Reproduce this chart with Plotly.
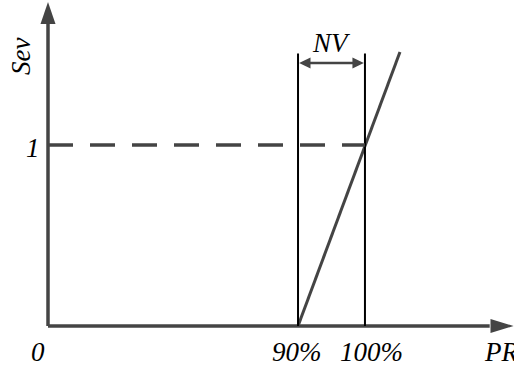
import plotly.graph_objects as go

# schematic data (abstract units)
tick_labels = ["0", "90%", "100%"]
tick_pos = [0.0, 9.0, 11.41]
label_pos = [-0.36, 8.96, 11.66]
sev_x = [9.0, 12.67]
sev_y = [0.0, 1.514]
ref_level = 1.0
ref_label = "1"
nv_label = "NV"
x_title = "PR"
y_title = "Sev"

XR = [-1.728, 16.775]
YR = [-0.254, 1.801]
AX = "#444444"
FONT = dict(family="Liberation Serif", size=27, color="black")

fig = go.Figure()
shapes = []
# axes
shapes.append(dict(type="line", x0=0, y0=0, x1=15.9, y1=0, line=dict(color=AX, width=3.5)))
shapes.append(dict(type="line", x0=0, y0=0, x1=0, y1=1.70, line=dict(color=AX, width=3.5)))
# axis arrowheads
shapes.append(dict(type="path", path="M 0,1.790 L -0.27,1.668 L 0.27,1.668 Z",
                   fillcolor=AX, line=dict(color=AX, width=0)))
shapes.append(dict(type="path", path="M 16.76,0 L 15.93,0.039 L 15.93,-0.039 Z",
                   fillcolor=AX, line=dict(color=AX, width=0)))
# vertical boundaries
for xp in tick_pos[1:]:
    shapes.append(dict(type="line", x0=xp, y0=0, x1=xp, y1=1.505, line=dict(color="black", width=2)))
# dashed reference
shapes.append(dict(type="line", x0=0, y0=ref_level, x1=tick_pos[2], y1=ref_level,
                   line=dict(color=AX, width=3.5, dash="25px,17px")))
# NV arrow
ny = 1.453
shapes.append(dict(type="line", x0=tick_pos[1] + 0.3, y0=ny, x1=tick_pos[2] - 0.3, y1=ny,
                   line=dict(color=AX, width=2.5)))
shapes.append(dict(type="path",
                   path=f"M {tick_pos[1]+0.04},{ny} L {tick_pos[1]+0.45},{ny+0.03} L {tick_pos[1]+0.45},{ny-0.03} Z",
                   fillcolor=AX, line=dict(color=AX, width=0)))
shapes.append(dict(type="path",
                   path=f"M {tick_pos[2]-0.04},{ny} L {tick_pos[2]-0.45},{ny+0.03} L {tick_pos[2]-0.45},{ny-0.03} Z",
                   fillcolor=AX, line=dict(color=AX, width=0)))

fig.add_trace(go.Scatter(x=sev_x, y=sev_y, mode="lines", line=dict(color=AX, width=3),
                         hoverinfo="skip", showlegend=False, cliponaxis=False))

ann = []
for p, t in zip(label_pos, tick_labels):
    ann.append(dict(x=p, y=-0.144, text=f"<i>{t}</i>", showarrow=False, font=FONT))
ann.append(dict(x=15.62, y=-0.144, text=f"<i>{x_title}</i>", showarrow=False, font=FONT, xanchor="left"))
ann.append(dict(x=-0.97, y=1.486, text=f"<i>{y_title}</i>", showarrow=False, font=FONT, textangle=-90))
ann.append(dict(x=-0.54, y=0.983, text=f"<i>{ref_label}</i>", showarrow=False, font=FONT))
ann.append(dict(x=(tick_pos[1] + tick_pos[2]) / 2, y=1.564, text=f"<i>{nv_label}</i>", showarrow=False, font=FONT))

fig.update_layout(
    width=514, height=372, margin=dict(l=0, r=0, t=0, b=0),
    paper_bgcolor="white", plot_bgcolor="white",
    xaxis=dict(range=XR, visible=False, fixedrange=True),
    yaxis=dict(range=YR, visible=False, fixedrange=True),
    shapes=shapes, annotations=ann, showlegend=False,
)
fig.write_html("out.html", config={"displayModeBar": False},
               post_script="document.body.style.margin='0';")
